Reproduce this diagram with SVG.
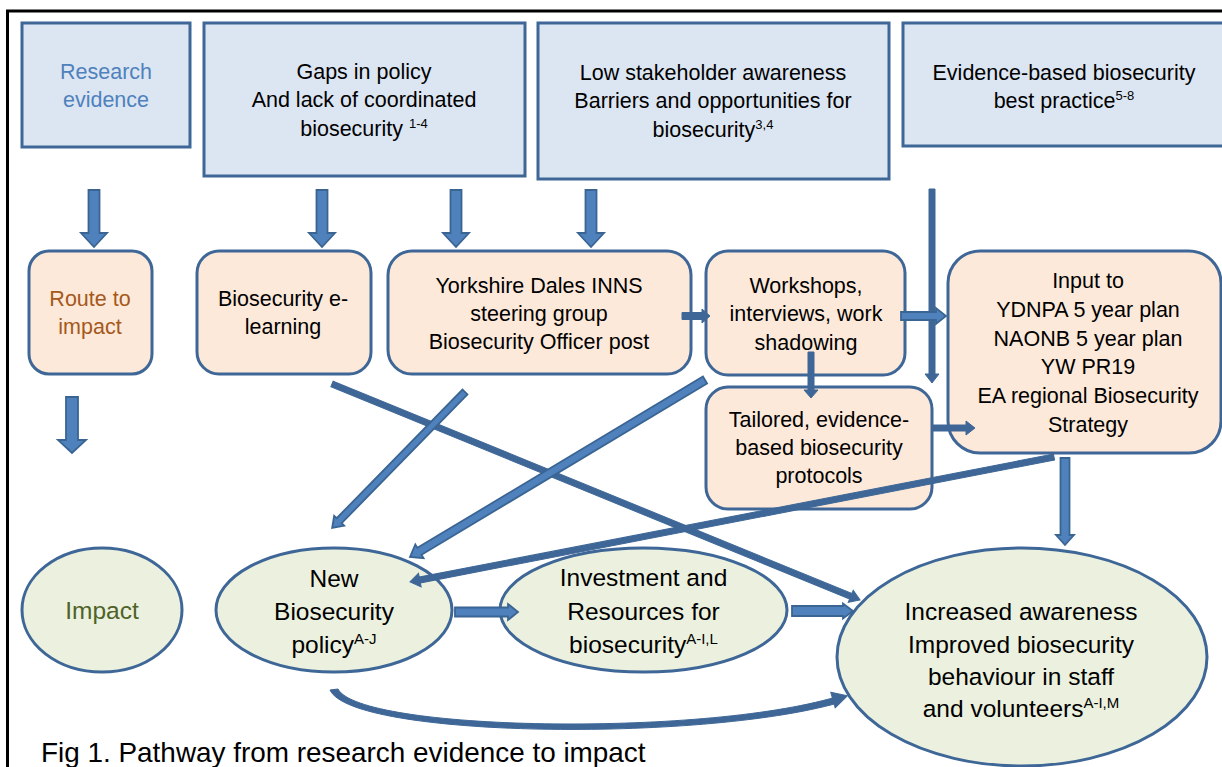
<svg xmlns="http://www.w3.org/2000/svg" width="1222" height="767" viewBox="0 0 1222 767">
  <style>
    text { font-family: "Liberation Sans", Arial, sans-serif; fill: #000; text-anchor: middle; }
    .t { font-size: 21.5px; }
    .e { font-size: 24.5px; }
    .sup { font-size: 13px; }
    .supE { font-size: 15px; }
    .src { fill: #dce6f2; stroke: #3e6797; stroke-width: 3; }
    .step { fill: #fde9d9; stroke: #3e6797; stroke-width: 3; }
    .out { fill: #ebf1de; stroke: #3e6797; stroke-width: 3; }
    .blk { fill: #4f81bd; stroke: #3a6593; stroke-width: 1.8; stroke-linejoin: miter; }
    .solid { fill: #3e6797; stroke: #3e6797; stroke-width: 1; }
  </style>
  <rect x="0" y="0" width="1222" height="767" fill="#fff"/>
  <!-- figure frame -->
  <rect x="7.5" y="11" width="1240" height="790" fill="none" stroke="#000" stroke-width="3"/>

  <!-- top row: evidence sources -->
  <g id="research-evidence">
    <rect class="src" x="22" y="23" width="168" height="124"/>
    <text class="t" x="106" y="79" style="fill:#4f81bd">Research</text>
    <text class="t" x="106" y="107" style="fill:#4f81bd">evidence</text>
  </g>
  <g id="gaps-policy">
    <rect class="src" x="204" y="23" width="321" height="153"/>
    <text class="t" x="364" y="79">Gaps in policy</text>
    <text class="t" x="364" y="107">And lack of coordinated</text>
    <text class="t" x="364" y="136">biosecurity <tspan class="sup" dy="-8">1-4</tspan></text>
  </g>
  <g id="low-awareness">
    <rect class="src" x="538" y="23" width="351" height="156"/>
    <text class="t" x="713" y="80">Low stakeholder awareness</text>
    <text class="t" x="713" y="108">Barriers and opportunities for</text>
    <text class="t" x="713" y="137">biosecurity<tspan class="sup" dy="-8">3,4</tspan></text>
  </g>
  <g id="best-practice">
    <rect class="src" x="903" y="23" width="340" height="123"/>
    <text class="t" x="1064" y="80">Evidence-based biosecurity</text>
    <text class="t" x="1064" y="108">best practice<tspan class="sup" dy="-8">5-8</tspan></text>
  </g>

  <!-- middle row: routes to impact -->
  <g id="route-to-impact">
    <rect class="step" x="29" y="251" width="123" height="123" rx="20"/>
    <text class="t" x="90" y="306" style="fill:#a5581b">Route to</text>
    <text class="t" x="90" y="334" style="fill:#a5581b">impact</text>
  </g>
  <g id="e-learning">
    <rect class="step" x="197" y="251" width="174" height="123" rx="22"/>
    <text class="t" x="283" y="306">Biosecurity e-</text>
    <text class="t" x="283" y="334">learning</text>
  </g>
  <g id="steering-group">
    <rect class="step" x="388" y="251" width="303" height="123" rx="24"/>
    <text class="t" x="539" y="293">Yorkshire Dales INNS</text>
    <text class="t" x="539" y="321">steering group</text>
    <text class="t" x="539" y="349">Biosecurity Officer post</text>
  </g>
  <g id="workshops">
    <rect class="step" x="706" y="251" width="199" height="124" rx="22"/>
    <text class="t" x="806" y="293">Workshops,</text>
    <text class="t" x="806" y="321">interviews, work</text>
    <text class="t" x="806" y="350">shadowing</text>
  </g>
  <g id="protocols">
    <rect class="step" x="706" y="387" width="226" height="122" rx="22"/>
    <text class="t" x="819" y="427">Tailored, evidence-</text>
    <text class="t" x="819" y="455">based biosecurity</text>
    <text class="t" x="819" y="483">protocols</text>
  </g>
  <g id="plan-input">
    <rect class="step" x="948" y="251" width="273" height="202" rx="32"/>
    <text class="t" x="1088" y="288">Input to</text>
    <text class="t" x="1088" y="317">YDNPA 5 year plan</text>
    <text class="t" x="1088" y="346">NAONB 5 year plan</text>
    <text class="t" x="1088" y="374">YW PR19</text>
    <text class="t" x="1088" y="403">EA regional Biosecurity</text>
    <text class="t" x="1088" y="432">Strategy</text>
  </g>

  <!-- bottom row: impacts -->
  <g id="impact">
    <ellipse class="out" cx="102" cy="610" rx="80" ry="62"/>
    <text class="e" x="102" y="619" style="fill:#4f6228">Impact</text>
  </g>
  <g id="new-policy">
    <ellipse class="out" cx="334" cy="610" rx="118" ry="62"/>
    <text class="e" x="334" y="587">New</text>
    <text class="e" x="334" y="620">Biosecurity</text>
    <text class="e" x="334" y="653">policy<tspan class="supE" dy="-9">A-J</tspan></text>
  </g>
  <g id="investment">
    <ellipse class="out" cx="643.5" cy="610" rx="143.5" ry="62"/>
    <text class="e" x="643.5" y="586">Investment and</text>
    <text class="e" x="643.5" y="620">Resources for</text>
    <text class="e" x="643.5" y="653">biosecurity<tspan class="supE" dy="-9">A-I,L</tspan></text>
  </g>
  <g id="behaviour">
    <ellipse class="out" cx="1022" cy="657" rx="185" ry="109"/>
    <text class="e" x="1021" y="620">Increased awareness</text>
    <text class="e" x="1021" y="653">Improved biosecurity</text>
    <text class="e" x="1021" y="685">behaviour in staff</text>
    <text class="e" x="1021" y="717">and volunteers<tspan class="supE" dy="-9">A-I,M</tspan></text>
  </g>

  <!-- connectors -->
  <g id="connectors">
    <!-- block arrows down from the top row -->
    <polygon class="blk" points="88.5,190 99.5,190 99.5,233 107,233 94,247 81,233 88.5,233"/>
    <polygon class="blk" points="316.5,190 327.5,190 327.5,233 335,233 322,247 309,233 316.5,233"/>
    <polygon class="blk" points="450.5,190 461.5,190 461.5,233 469,233 456,247 443,233 450.5,233"/>
    <polygon class="blk" points="585.5,190 596.5,190 596.5,233 604,233 591,247 578,233 585.5,233"/>
    <polygon class="blk" points="66,397 78,397 78,440 86,440 72,453 58,440 66,440"/>

    <!-- best practice down to plan input -->
    <polygon class="solid" points="929,189 935,189 935,374 939,374 932,383 925,374 929,374"/>

    <!-- short links between middle boxes -->
    <polygon class="solid" points="682,312.5 702,312.5 702,309 710,316 702,323 702,319.5 682,319.5"/>
    <polygon class="blk" points="901,312 936,312 936,308 946,316 936,324 936,320 901,320"/>
    <polygon class="solid" points="808,352 814,352 814,390 818,390 811,398 804,390 808,390"/>
    <polygon class="solid" points="932,425 966,425 966,421 975,428 966,435 966,431 932,431"/>
    <polygon class="blk" points="1060.5,458 1069.5,458 1069.5,535 1074,535 1065,545 1056,535 1060.5,535"/>

    <!-- links between impact ellipses -->
    <polygon class="blk" points="455,607.5 508,607.5 508,604 518,612 508,620 508,616.5 455,616.5"/>
    <polygon class="blk" points="792,606 843,606 843,603.5 853,611 843,618.5 843,616 792,616"/>

    <!-- diagonal links -->
    <g transform="translate(332,384) rotate(22.25)">
      <polygon class="solid" points="0,-3 560.5,-3 560.5,-6.5 570.5,0 560.5,6.5 560.5,3 0,3"/>
    </g>
    <g transform="translate(465,392) rotate(134.36)">
      <polygon class="blk" points="0,-3.5 180,-3.5 180,-7 190,0 180,7 180,3.5 0,3.5"/>
    </g>
    <g transform="translate(705,380) rotate(149.04)">
      <polygon class="blk" points="0,-4 333,-4 333,-8 344,0 333,8 333,4 0,4"/>
    </g>
    <g transform="translate(1054,457) rotate(169.02)">
      <polygon class="solid" points="0,-3 646,-3 646,-7 656,0 646,7 646,3 0,3"/>
    </g>

    <!-- curved link from policy to behaviour -->
    <path class="solid" d="M 330 690 C 352 738, 700 742, 838 703 L 836 697 C 700 737, 360 731, 338 689 Z"/>
    <g transform="translate(833,700) rotate(-16)">
      <polygon class="solid" points="0,-8 15,0 0,8"/>
    </g>
  </g>

  <text x="41" y="762" style="font-size:27.9px;text-anchor:start">Fig 1. Pathway from research evidence to impact</text>
</svg>
